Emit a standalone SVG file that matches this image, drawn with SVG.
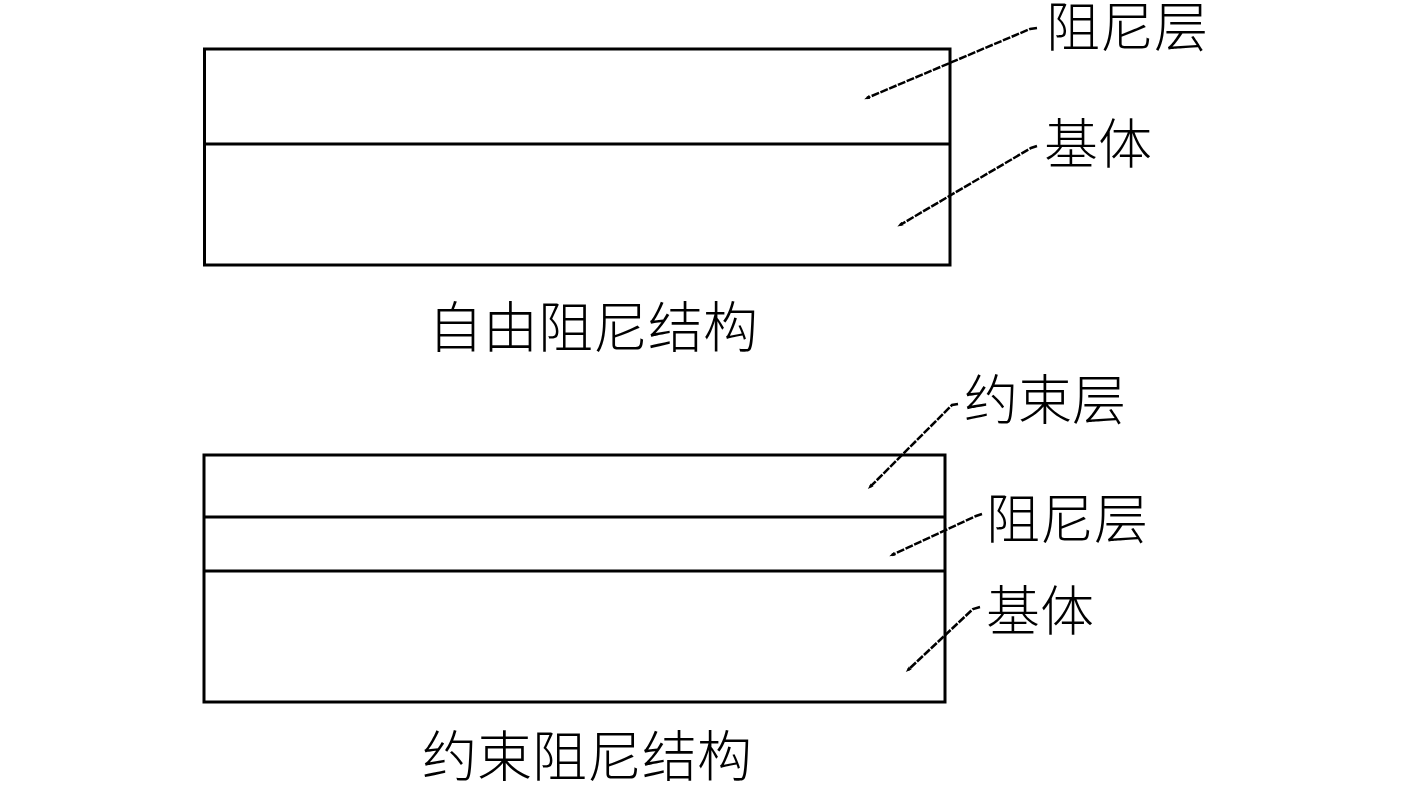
<svg xmlns="http://www.w3.org/2000/svg" width="1417" height="787" viewBox="0 0 1417 787">
<style>
.box{fill:none;stroke:#000;stroke-width:3}
.div{stroke:#000;stroke-width:3}
.lead{fill:none;stroke:#000;stroke-width:2.5;stroke-dasharray:8 1.5}
.lbl{font-family:"Noto Sans CJK SC","Noto Sans CJK JP",sans-serif;font-size:54px;fill:#000;font-weight:300}
.cap{font-size:55px}
</style>
<defs>
<marker id="tip" markerWidth="6" markerHeight="6" refX="3" refY="3" orient="auto" markerUnits="userSpaceOnUse">
<path d="M0,1 L6,3 L0,5 Z" fill="#000"/>
</marker>
</defs>
<rect width="1417" height="787" fill="#fff"/>
<g id="free-structure">
<rect class="box" x="204.5" y="49" width="745.5" height="216"/>
<line class="div" x1="204.5" y1="144" x2="950" y2="144"/>
</g>
<g id="constrained-structure">
<rect class="box" x="204" y="455" width="741" height="247"/>
<line class="div" x1="204" y1="517" x2="945" y2="517"/>
<line class="div" x1="204" y1="571" x2="945" y2="571"/>
</g>
<g id="connectors">
<polyline class="lead" points="1037,28 1030,29 867,98" marker-end="url(#tip)"/>
<polyline class="lead" points="1037,146 1031,148 900,225" marker-end="url(#tip)"/>
<polyline class="lead" points="958,404 952,405 870,487" marker-end="url(#tip)"/>
<polyline class="lead" points="982,514 976,516 892,555" marker-end="url(#tip)"/>
<polyline class="lead" points="980,607 973,609 908,670" marker-end="url(#tip)"/>
</g>
<g id="labels">
<text class="lbl" x="1046" y="47">阻尼层</text>
<text class="lbl" x="1044" y="164">基体</text>
<text class="lbl" x="964" y="420">约束层</text>
<text class="lbl" x="986" y="539">阻尼层</text>
<text class="lbl" x="986" y="631">基体</text>
<text class="lbl cap" x="428" y="347">自由阻尼结构</text>
<text class="lbl cap" x="422" y="776">约束阻尼结构</text>
</g>
</svg>
